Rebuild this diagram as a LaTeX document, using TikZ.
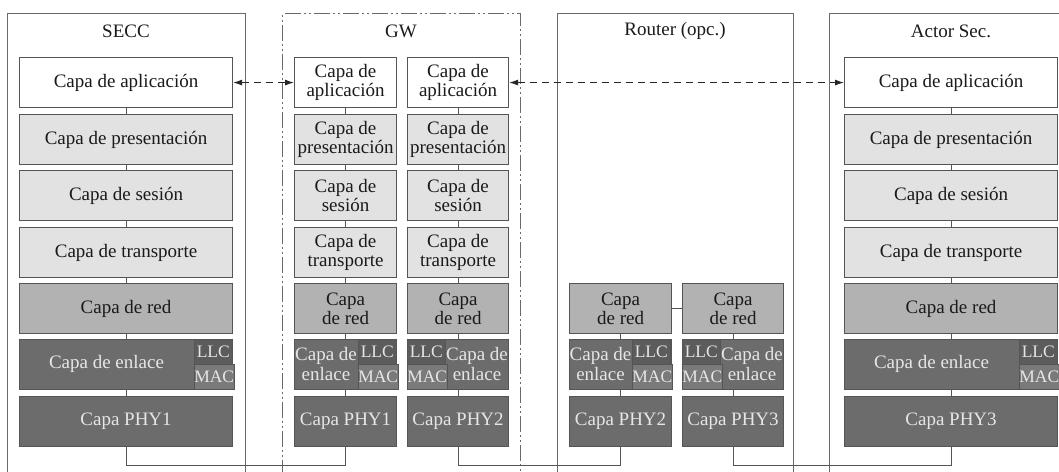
\documentclass[tikz,border=0pt]{standalone}
\usepackage{fontspec}
\setmainfont{Liberation Serif}
\usetikzlibrary{arrows.meta,calc}
\definecolor{bordc}{HTML}{555555}
\definecolor{outc}{HTML}{6A6A6A}
\definecolor{lightf}{HTML}{E2E2E2}
\definecolor{redf}{HTML}{B2B2B2}
\definecolor{darkf}{HTML}{6C6C6C}
\definecolor{llcf}{HTML}{5C5C5C}
\definecolor{macf}{HTML}{7A7A7A}
\definecolor{textlight}{HTML}{E6E6E6}
\definecolor{textdark}{HTML}{1A1A1A}
\tikzset{
  layer/.style={draw=bordc, line width=1.1pt, minimum height=50pt, inner sep=0pt,
    align=center, font=\fontsize{19}{19.5}\selectfont, text=textdark, anchor=north west},
  appl/.style={layer, fill=white},
  midl/.style={layer, fill=lightf},
  redl/.style={layer, fill=redf},
  darkl/.style={layer, fill=darkf, text=textlight},
  subbox/.style={draw=bordc, line width=0.6pt, minimum width=38pt, minimum height=25pt,
    inner sep=0pt, anchor=north west, text=textlight, font=\fontsize{17.5}{17.5}\selectfont},
  llcbox/.style={subbox, fill=llcf},
  macbox/.style={subbox, fill=macf},
  enltext/.style={align=center, inner sep=0pt, text=textlight, font=\fontsize{19}{19.5}\selectfont},
  outerbox/.style={draw=outc, line width=1.1pt, anchor=north west, inner sep=0pt},
  title/.style={font=\fontsize{19}{19.5}\selectfont, text=textdark, inner sep=0pt},
  conn/.style={draw=bordc, line width=0.9pt},
  darr/.style={draw=black!85, line width=1pt, dash pattern=on 7pt off 5pt,
    {Latex[length=9pt,width=6pt]}-{Latex[length=9pt,width=6pt]}}
}
\newcommand\lay[6]{\node[#5, minimum width={#3pt-#2pt}] (#1) at (#2,#4) {#6};}
\begin{document}
\begin{tikzpicture}[x=1pt,y=-1pt]
\fill[white] (0,0) rectangle (1059,471);
\useasboundingbox (0,0) rectangle (1059,471);

% outer boxes
\node[outerbox, minimum width=238pt, minimum height=470pt] (secc) at (7,13) {};
\node[outerbox, minimum width=238pt, minimum height=470pt,
  dash pattern=on 16pt off 3pt on 2pt off 3pt on 2pt off 3pt] (gw) at (282,13) {};
\node[outerbox, minimum width=236pt, minimum height=470pt] (router) at (557,13) {};
\node[outerbox, minimum width=250pt, minimum height=470pt] (actor) at (829,13) {};

\node[title] (tsecc) at (126,31) {SECC};
\node[title] (tgw) at (401,31) {GW};
\node[title] (trouter) at (675,31) {Router (opc.)};
\node[title] (tactor) at (951,31) {Actor Sec.};

% SECC column
\lay{s1}{19}{232}{57}{appl}{Capa de aplicación}
\lay{s2}{19}{232}{114}{midl}{Capa de presentación}
\lay{s3}{19}{232}{170}{midl}{Capa de sesión}
\lay{s4}{19}{232}{227}{midl}{Capa de transporte}
\lay{s5}{19}{232}{283}{redl}{Capa de red}
\lay{s6}{19}{232}{339}{darkl}{}
\node[llcbox] (s6l) at (194,339) {LLC};
\node[macbox] (s6m) at (194,364) {MAC};
\node[enltext] (s6t) at (106.5,364) {Capa de enlace};
\lay{s7}{19}{232}{396}{darkl}{Capa PHY1}

% GW left column
\lay{ga1}{294}{396}{57}{appl}{Capa de\\aplicación}
\lay{ga2}{294}{396}{114}{midl}{Capa de\\presentación}
\lay{ga3}{294}{396}{170}{midl}{Capa de\\sesión}
\lay{ga4}{294}{396}{227}{midl}{Capa de\\transporte}
\lay{ga5}{294}{396}{283}{redl}{Capa\\de red}
\lay{ga6}{294}{396}{339}{darkl}{}
\node[llcbox] (ga6l) at (358,339) {LLC};
\node[macbox] (ga6m) at (358,364) {MAC};
\node[enltext] (ga6t) at (326,364) {Capa de\\enlace};
\lay{ga7}{294}{396}{396}{darkl}{Capa PHY1}

% GW right column
\lay{gb1}{407}{508}{57}{appl}{Capa de\\aplicación}
\lay{gb2}{407}{508}{114}{midl}{Capa de\\presentación}
\lay{gb3}{407}{508}{170}{midl}{Capa de\\sesión}
\lay{gb4}{407}{508}{227}{midl}{Capa de\\transporte}
\lay{gb5}{407}{508}{283}{redl}{Capa\\de red}
\lay{gb6}{407}{508}{339}{darkl}{}
\node[llcbox] (gb6l) at (407,339) {LLC};
\node[macbox] (gb6m) at (407,364) {MAC};
\node[enltext] (gb6t) at (477,364) {Capa de\\enlace};
\lay{gb7}{407}{508}{396}{darkl}{Capa PHY2}

% Router left column
\lay{ra5}{569}{671}{283}{redl}{Capa\\de red}
\lay{ra6}{569}{671}{339}{darkl}{}
\node[llcbox] (ra6l) at (632,339) {LLC};
\node[macbox] (ra6m) at (632,364) {MAC};
\node[enltext] (ra6t) at (600.5,364) {Capa de\\enlace};
\lay{ra7}{569}{671}{396}{darkl}{Capa PHY2}

% Router right column
\lay{rb5}{682}{783}{283}{redl}{Capa\\de red}
\lay{rb6}{682}{783}{339}{darkl}{}
\node[llcbox] (rb6l) at (682,339) {LLC};
\node[macbox] (rb6m) at (682,364) {MAC};
\node[enltext] (rb6t) at (752,364) {Capa de\\enlace};
\lay{rb7}{682}{783}{396}{darkl}{Capa PHY3}

% Actor column
\lay{ac1}{844}{1057}{57}{appl}{Capa de aplicación}
\lay{ac2}{844}{1057}{114}{midl}{Capa de presentación}
\lay{ac3}{844}{1057}{170}{midl}{Capa de sesión}
\lay{ac4}{844}{1057}{227}{midl}{Capa de transporte}
\lay{ac5}{844}{1057}{283}{redl}{Capa de red}
\lay{ac6}{844}{1057}{339}{darkl}{}
\node[llcbox] (ac6l) at (1019,339) {LLC};
\node[macbox] (ac6m) at (1019,364) {MAC};
\node[enltext] (ac6t) at (931.5,364) {Capa de enlace};
\lay{ac7}{844}{1057}{396}{darkl}{Capa PHY3}

% vertical connectors
\foreach \c in {s,ga,gb,ac}{
  \draw[conn] (\c1) -- (\c2);
  \draw[conn] (\c2) -- (\c3);
  \draw[conn] (\c3) -- (\c4);
  \draw[conn] (\c4) -- (\c5);
}
\foreach \c in {s,ga,gb,ra,rb,ac}{
  \draw[conn] (\c5) -- (\c6);
  \draw[conn] (\c6) -- (\c7);
}
\draw[conn] (ra5) -- (rb5);

% bottom links
\coordinate (base) at (0,465);
\draw[conn] (s7.south) -- (s7.south |- base) -- (ga7.south |- base) -- (ga7.south);
\draw[conn] (gb7.south) -- (gb7.south |- base) -- (ra7.south |- base) -- (ra7.south);
\draw[conn] (rb7.south) -- (rb7.south |- base) -- (ac7.south |- base) -- (ac7.south);

% dashed peer arrows
\draw[darr] (s1) -- (ga1);
\draw[darr] (gb1) -- (ac1);
\end{tikzpicture}
\end{document}
